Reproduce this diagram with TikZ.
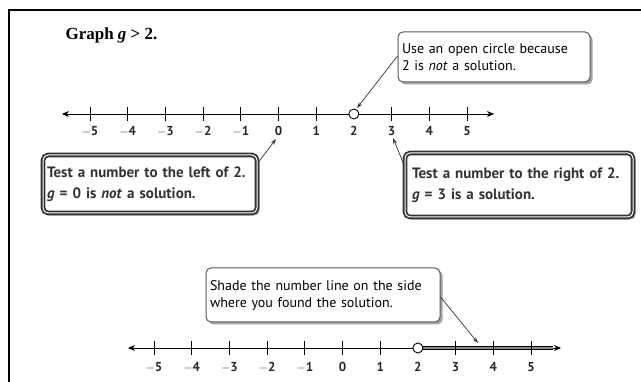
\documentclass[tikz,border=0pt]{standalone}
\usepackage{fontspec}
\setmainfont{Liberation Serif}
\newfontfamily\callfont{PT Sans}
\usetikzlibrary{arrows.meta,shadows,calc}
\begin{document}
\begin{tikzpicture}[x=1pt,y=-1pt,
  frameline/.style={line width=1.4pt,black},
  numline/.style={line width=0.9pt,black,{Stealth[length=7pt,width=6pt]}-{Stealth[length=7pt,width=6pt]}},
  tick/.style={line width=0.8pt},
  numlab/.style={font=\callfont\fontsize{13}{14}\selectfont\bfseries,text=black!85},
  callout/.style={draw=black!65,line width=1pt,rounded corners=5pt,fill=white,
    drop shadow={shadow xshift=2.5pt,shadow yshift=-2.5pt,fill=black!45,opacity=0.8},
    align=left,inner sep=4pt,font=\callfont\fontsize{14}{17}\selectfont},
  heavycallout/.style={callout,draw=black!80,line width=1.8pt,double=white,double distance=1pt,
    font=\callfont\fontsize{15}{21}\selectfont\bfseries,text=black!80},
  leader/.style={line width=0.7pt,black!80,-{Stealth[length=6pt,width=4pt]}},
  opencirc/.style={circle,draw,line width=0.9pt,fill=white,minimum size=10pt,inner sep=0pt}
]
\useasboundingbox (0,0) rectangle (641,382);
\draw[frameline] (9,383) -- (9,10) -- (642,10);

% title
\node[anchor=west,font=\fontsize{17}{19}\selectfont\bfseries] (title) at (62,35) {Graph \textit{g} > 2.};

% top number line
\coordinate (tl) at (62,114);
\coordinate (tr) at (494,114);
\draw[numline] (tl) -- (tr);
\foreach \v [count=\k from 0] in {-5,-4,-3,-2,-1,0,1,2,3,4,5} {
  \coordinate (a\k) at ({90+37.7*\k},114);
  \ifnum\v=2\else\draw[tick] ($(a\k)+(0,-7)$) -- ($(a\k)+(0,7)$);\fi
  \node[numlab] (al\k) at ({90+37.7*\k},131) {\ifnum\v<0 $-$\the\numexpr-\v\relax\else\v\fi};
}
\node[opencirc] (oc1) at (a7) {};

% bottom number line
\coordinate (bl) at (128,348);
\coordinate (br) at (561,348);
\draw[numline] (bl) -- (br);
\foreach \v [count=\k from 0] in {-5,-4,-3,-2,-1,0,1,2,3,4,5} {
  \coordinate (b\k) at ({154+37.7*\k},348);
  \ifnum\v=2\else\draw[tick] ($(b\k)+(0,-7)$) -- ($(b\k)+(0,7)$);\fi
  \node[numlab] (bl\k) at ({154+37.7*\k},367) {\ifnum\v<0 $-$\the\numexpr-\v\relax\else\v\fi};
}
\draw[line width=1pt,draw=black,double=black!45,double distance=2pt] (b7) -- ($(br)+(-8,0)$);
\foreach \k in {8,9,10} {\draw[tick] ($(b\k)+(0,-7)$) -- ($(b\k)+(0,7)$);}
\node[opencirc] (oc2) at (b7) {};

% callouts
\node[callout,minimum width=192pt,minimum height=50pt,text width=184pt] (c1) at (494,57)
  {Use an open circle because\\2 is \textit{not} a solution.};
\node[heavycallout,minimum width=214pt,minimum height=58pt,text width=206pt] (c2) at (150,184)
  {Test a number to the left of 2.\\\textit{g} = 0 is \textit{not} a solution.};
\node[heavycallout,minimum width=228pt,minimum height=64pt,text width=214pt] (c3) at (519,185)
  {Test a number to the right of 2.\\\textit{g} = 3 is a solution.};
\node[callout,minimum width=234pt,minimum height=54pt,text width=226pt] (c4) at (323,295)
  {Shade the number line on the side\\where you found the solution.};

% leaders
\coordinate (e1) at (357,108);
\coordinate (e2) at (276,139);
\coordinate (e3) at (393,138);
\coordinate (e4) at (478,343);
\draw[leader] (c1.west |- 0,56) -- (e1);
\draw[leader] (c2.east |- 0,163) -- (e2);
\draw[leader] (c3.west |- 0,165) -- (e3);
\draw[leader] (c4.east |- 0,297) -- (e4);
\end{tikzpicture}
\end{document}
